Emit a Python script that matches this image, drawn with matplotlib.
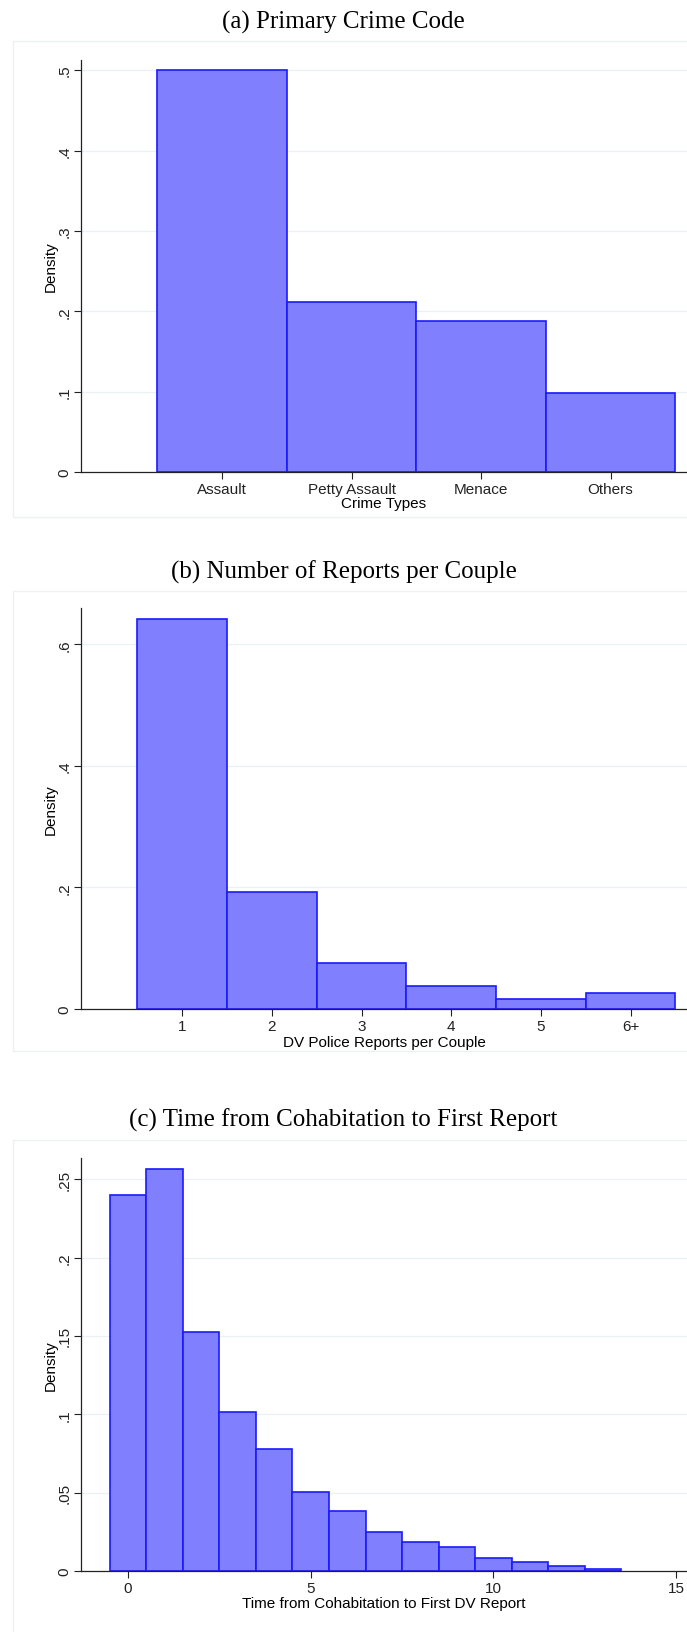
import matplotlib
matplotlib.use("Agg")
import matplotlib.pyplot as plt
from matplotlib.patches import Rectangle

crime_types = ["Assault", "Petty Assault", "Menace", "Others"]
crime_density = [0.500, 0.212, 0.188, 0.098]

report_labels = ["1", "2", "3", "4", "5", "6+"]
report_density = [0.642, 0.193, 0.075, 0.038, 0.0165, 0.027]

years = list(range(14))
years_density = [0.240, 0.2565, 0.1527, 0.1017, 0.078, 0.0507, 0.038, 0.0247,
                 0.0184, 0.0151, 0.0086, 0.006, 0.0035, 0.001]

fig = plt.figure(figsize=(6.87, 16.33), dpi=100)
H = 1633.0
W = 687.0
FS = 11

def fmt(v):
    s = ("%g" % v)
    return s[1:] if s.startswith("0.") else s

fill = "#8080ff"
edge = "#1a1aff"

def panel(title, top_px, bot_px, title_px, box_top, box_bot):
    fig.add_artist(Rectangle((13 / W, 1 - box_bot / H), 1, (box_bot - box_top) / H,
                             transform=fig.transFigure, facecolor="none",
                             edgecolor="#eef0f2", lw=1.0))
    fig.text(0.5, 1 - title_px / H, title, ha="center", va="center",
             family="Liberation Serif", fontsize=18)
    ax = fig.add_axes([81 / W, 1 - bot_px / H, 1 - 81 / W, (bot_px - top_px) / H])
    for s in ["top", "right"]:
        ax.spines[s].set_visible(False)
    for s in ["left", "bottom"]:
        ax.spines[s].set_color("#222222")
        ax.spines[s].set_linewidth(0.9)
    ax.grid(axis="y", color="#eaf0f3", lw=0.9)
    ax.set_axisbelow(True)
    ax.tick_params(labelsize=FS, colors="#222222", length=5, width=0.8, pad=2)
    ax.set_ylabel("Density", fontsize=FS, family="Liberation Sans", labelpad=0)
    return ax

def style_yticks(ax, ticks):
    ax.set_yticks(ticks)
    ax.set_yticklabels([fmt(t) for t in ticks], rotation=90, va="center",
                       family="Liberation Sans")

def style_xticks(ax):
    for t in ax.get_xticklabels():
        t.set_family("Liberation Sans")

# (a)
ax = panel("(a) Primary Crime Code", 61, 473, 22, 42, 518)
xs = list(range(1, len(crime_types) + 1))
ax.bar(xs, crime_density, width=1.0, color=fill, edgecolor=edge, lw=1.2)
ax.set_xlim(-0.09, 4.59)
ax.set_ylim(0, 0.5126)
style_yticks(ax, [0, 0.1, 0.2, 0.3, 0.4, 0.5])
ax.set_xticks(xs)
ax.set_xticklabels(crime_types)
style_xticks(ax)
ax.set_xlabel("Crime Types", fontsize=FS, family="Liberation Sans", labelpad=0)

# (b)
ax = panel("(b) Number of Reports per Couple", 609, 1010, 572, 592, 1052)
xs = list(range(1, len(report_labels) + 1))
ax.bar(xs, report_density, width=1.0, color=fill, edgecolor=edge, lw=1.2)
ax.set_xlim(-0.13, 6.63)
ax.set_ylim(0, 0.66)
style_yticks(ax, [0, 0.2, 0.4, 0.6])
ax.set_xticks(xs)
ax.set_xticklabels(report_labels)
style_xticks(ax)
ax.set_xlabel("DV Police Reports per Couple", fontsize=FS, family="Liberation Sans", labelpad=2)

# (c)
ax = panel("(c) Time from Cohabitation to First Report", 1159, 1572, 1120, 1141, 1640)
ax.bar(years, years_density, width=1.0, color=fill, edgecolor=edge, lw=1.2)
ax.set_xlim(-1.29, 15.3)
ax.set_ylim(0, 0.2635)
style_yticks(ax, [0, 0.05, 0.1, 0.15, 0.2, 0.25])
ax.set_xticks([0, 5, 10, 15])
ax.set_xticklabels(["0", "5", "10", "15"])
style_xticks(ax)
ax.set_xlabel("Time from Cohabitation to First DV Report", fontsize=FS, family="Liberation Sans", labelpad=1)

fig.savefig("out.png", dpi=100)
